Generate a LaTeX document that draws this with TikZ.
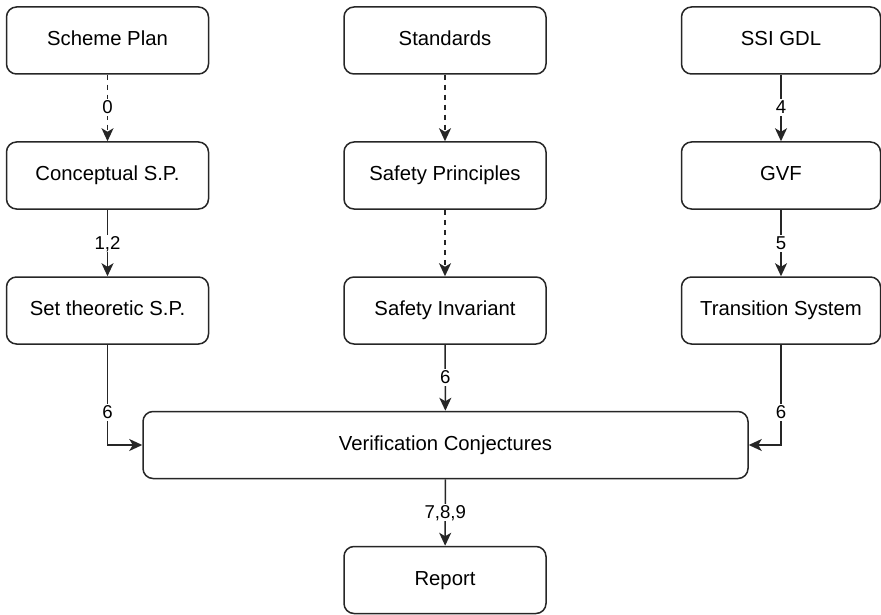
\documentclass[tikz,border=0pt]{standalone}
\usepackage{fontspec}
\setmainfont{Liberation Sans}
\usetikzlibrary{arrows.meta}
\begin{document}
\begin{tikzpicture}[x=1pt,y=-1pt,
  box/.style={draw=black!85, line width=1.5pt, rounded corners=10pt,
    minimum width=202pt, minimum height=67pt, inner sep=0pt,
    font=\fontsize{20.3}{24}\selectfont, text height=14.5pt, text depth=4pt, align=center},
  conn/.style={line width=1.5pt, draw=black!85, -{Stealth[length=13pt,width=12pt,inset=3.5pt]}},
  dconn/.style={conn, dash pattern=on 5pt off 5pt},
  lbl/.style={fill=white, inner sep=1.5pt, font=\fontsize{18.6}{22}\selectfont, text height=13pt, text depth=1pt}
]
\useasboundingbox (0,0) rectangle (881,615);
\node[box] (sp)  at (107.5,40.5)  {Scheme Plan};
\node[box] (cs)  at (107.5,175.5) {Conceptual S.P.};
\node[box] (st)  at (107.5,310.5) {Set theoretic S.P.};
\node[box] (std) at (445,40.5)    {Standards};
\node[box] (spr) at (445,175.5)   {Safety Principles};
\node[box] (si)  at (445,310.5)   {Safety Invariant};
\node[box, minimum width=199pt] (ssi) at (781,40.5)  {SSI GDL};
\node[box, minimum width=199pt] (gvf) at (781,175.5) {GVF};
\node[box, minimum width=199pt] (ts)  at (781,310.5) {Transition System};
\node[box, minimum width=605pt] (vc) at (445.5,445) {Verification Conjectures};
\node[box] (rep) at (445,580) {Report};

\draw[dconn] (sp) -- node[lbl] {0} (cs);
\draw[conn] (cs) -- node[lbl] {1,2} (st);
\draw[dconn] (std) -- (spr);
\draw[dconn] (spr) -- (si);
\draw[conn] (ssi) -- node[lbl] {4} (gvf);
\draw[conn] (gvf) -- node[lbl] {5} (ts);
\draw[conn] (si) -- node[lbl] {6} (vc);
\draw[conn] (st.south) |- node[lbl, pos=0.34] {6} (vc.west);
\draw[conn] (ts.south) |- node[lbl, pos=0.34] {6} (vc.east);
\draw[conn] (vc) -- node[lbl] {7,8,9} (rep);
\end{tikzpicture}
\end{document}
